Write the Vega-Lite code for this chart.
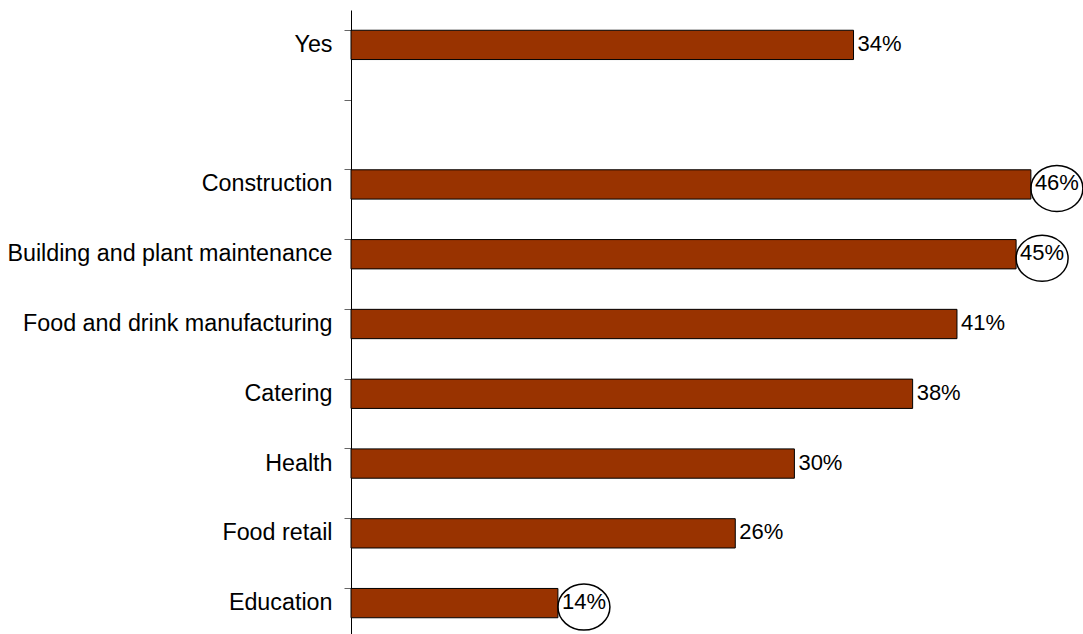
{
  "$schema": "https://vega.github.io/schema/vega-lite/v6.json",
  "width": 739,
  "height": 628,
  "autosize": {"type": "none"},
  "padding": {"left": 351, "top": 10, "right": 0, "bottom": 0},
  "background": "white",
  "config": {
    "view": {"stroke": null},
    "font": "Liberation Sans"
  },
  "data": {
    "values": [
      {"category": "Yes", "value": 34, "label": "34%", "circled": false},
      {"category": "Construction", "value": 46, "label": "46%", "circled": true},
      {"category": "Building and plant maintenance", "value": 45, "label": "45%", "circled": true},
      {"category": "Food and drink manufacturing", "value": 41, "label": "41%", "circled": false},
      {"category": "Catering", "value": 38, "label": "38%", "circled": false},
      {"category": "Health", "value": 30, "label": "30%", "circled": false},
      {"category": "Food retail", "value": 26, "label": "26%", "circled": false},
      {"category": "Education", "value": 14, "label": "14%", "circled": true}
    ]
  },
  "encoding": {
    "y": {
      "field": "category",
      "type": "nominal",
      "scale": {
        "domain": ["Yes", " ", "Construction", "Building and plant maintenance", "Food and drink manufacturing", "Catering", "Health", "Food retail", "Education"],
        "paddingInner": 0.58,
        "paddingOuter": 0.29
      },
      "axis": {
        "title": null,
        "domain": true,
        "domainColor": "black",
        "domainWidth": 1,
        "ticks": true,
        "bandPosition": 0,
        "tickSize": 7,
        "tickColor": "#666666",
        "tickWidth": 1,
        "labelFontSize": 23.3,
        "labelColor": "black",
        "labelFont": "Liberation Sans",
        "labelPadding": 12,
        "labelLimit": 0,
        "grid": false
      }
    },
    "x": {
      "field": "value",
      "type": "quantitative",
      "scale": {"domain": [0, 50], "nice": false},
      "axis": null
    }
  },
  "layer": [
    {
      "mark": {"type": "bar", "color": "#993300", "stroke": "black", "strokeWidth": 1}
    },
    {
      "mark": {"type": "text", "align": "left", "baseline": "middle", "dx": 4, "dy": -1, "fontSize": 22, "font": "Liberation Sans", "color": "black"},
      "encoding": {"text": {"field": "label"}}
    },
    {
      "transform": [{"filter": "datum.circled"}],
      "mark": {
        "type": "point",
        "shape": "M -1 0 A 1 0.885 0 1 0 1 0 A 1 0.885 0 1 0 -1 0 Z",
        "size": 2704,
        "filled": false,
        "stroke": "black",
        "strokeWidth": 1.5,
        "opacity": 1,
        "xOffset": 26,
        "yOffset": 4
      }
    }
  ]
}
